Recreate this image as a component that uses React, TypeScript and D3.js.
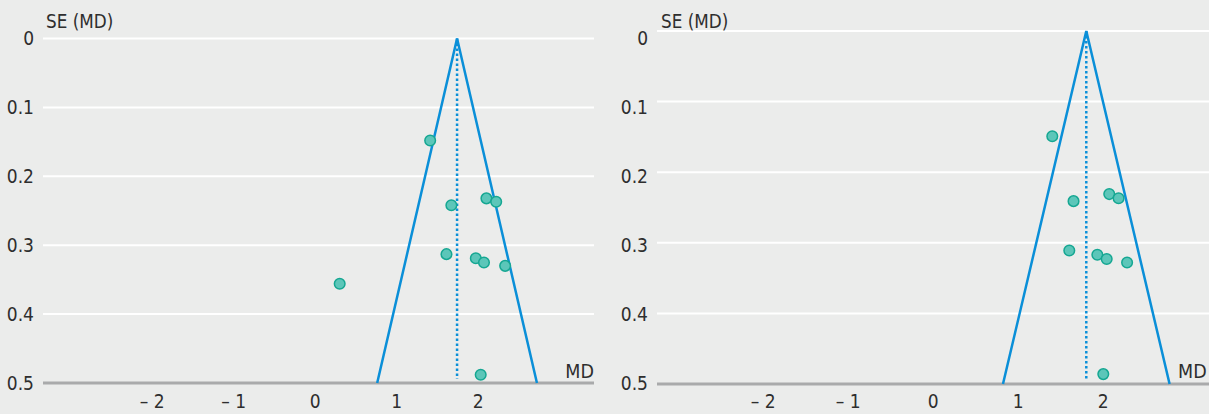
import React from 'react';
import * as d3 from 'd3';

// funnel plot data
const leftMD = [1.41, 1.67, 2.10, 2.22, 1.61, 1.97, 2.07, 2.33, 0.30, 2.03];
const leftSE = [0.148, 0.242, 0.232, 0.237, 0.313, 0.319, 0.325, 0.330, 0.356, 0.488];
const leftPooled = 1.74;

const rightMD = [1.40, 1.65, 2.07, 2.18, 1.60, 1.93, 2.04, 2.28, 2.00];
const rightSE = [0.149, 0.241, 0.231, 0.237, 0.311, 0.317, 0.323, 0.328, 0.486];
const rightPooled = 1.80;

const xTicks = [-2, -1, 0, 1, 2];
const yTicks = [0, 0.1, 0.2, 0.3, 0.4, 0.5];

const W = 1209;
const H = 414;
const FONT = "'Liberation Sans Narrow', 'DejaVu Sans Condensed', 'Liberation Sans', sans-serif";
const BG = '#ebeceb';
const TEXT = '#2e2e2e';
const BLUE = '#0a8fd8';
const TEAL_FILL = '#5cc6b9';
const TEAL_STROKE = '#15a792';

interface PanelProps {
  md: number[];
  se: number[];
  pooled: number;
  xDomain: [number, number];
  xRange: [number, number];
  yRange: [number, number];
  labelRange: [number, number];
  labelX: number;
  seLabelX: number;
  mdLabelX: number;
  mdAnchor: string;
}

function Panel(p: PanelProps) {
  const x = d3.scaleLinear().domain(p.xDomain).range(p.xRange);
  const y = d3.scaleLinear().domain([0, 0.5]).range(p.yRange);
  const yl = d3.scaleLinear().domain([0, 0.5]).range(p.labelRange);
  const seMax = 0.5;

  // pseudo 95% limits
  const funnel = d3.line<[number, number]>()
    .x(d => x(d[0]))
    .y(d => y(d[1]));
  const funnelPts: [number, number][] = [
    [p.pooled - 1.96 * seMax, seMax],
    [p.pooled, 0],
    [p.pooled + 1.96 * seMax, seMax],
  ];
  const fmt = (v: number) => (v === 0 ? '0' : d3.format('.1f')(v));
  const xFmt = (v: number) => (v < 0 ? `\u2013 ${Math.abs(v)}` : `${v}`);

  return (
    <g>
      {yTicks.slice(0, -1).map(t => (
        <line key={t} x1={p.xRange[0]} x2={p.xRange[1]} y1={y(t)} y2={y(t)} stroke="#ffffff" strokeWidth={2} />
      ))}
      <line x1={p.xRange[0]} x2={p.xRange[1]} y1={y(0.5)} y2={y(0.5)} stroke="#a9aaab" strokeWidth={3} />
      {yTicks.map(t => (
        <text key={t} x={p.labelX} y={yl(t)} dy="0.35em" textAnchor="end" fontSize={19} fill={TEXT}>
          {fmt(t)}
        </text>
      ))}
      {xTicks.map(t => (
        <text key={t} x={x(t)} y={408} textAnchor="middle" fontSize={19} fill={TEXT}>
          {xFmt(t)}
        </text>
      ))}
      <text x={p.seLabelX} y={28} fontSize={18.7} fill={TEXT}>SE (MD)</text>
      <text x={p.mdLabelX} y={378} textAnchor={p.mdAnchor} fontSize={19.5} fill={TEXT}>MD</text>
      <line x1={x(p.pooled)} x2={x(p.pooled)} y1={y(0)} y2={y(0.5) - 4} stroke={BLUE} strokeWidth={2.5} strokeDasharray="2.5,2.5" />
      <path d={funnel(funnelPts) || ''} fill="none" stroke={BLUE} strokeWidth={2.5} strokeLinejoin="miter" />
      {p.md.map((m, i) => (
        <circle key={i} cx={x(m)} cy={y(p.se[i])} r={5.3} fill={TEAL_FILL} stroke={TEAL_STROKE} strokeWidth={1.5} />
      ))}
    </g>
  );
}

export default function App() {
  return (
    <svg width={W} height={H} style={{ position: 'absolute', left: 0, top: 0, fontFamily: FONT }}>
      <rect width={W} height={H} fill={BG} />
      <Panel
        md={leftMD}
        se={leftSE}
        pooled={leftPooled}
        xDomain={[-3.34, 3.42]}
        xRange={[43, 594]}
        yRange={[38.5, 383]}
        labelRange={[38.5, 383]}
        labelX={34}
        seLabelX={46}
        mdLabelX={594}
        mdAnchor="end"
      />
      <Panel
        md={rightMD}
        se={rightSE}
        pooled={rightPooled}
        xDomain={[-3.25, 3.42]}
        xRange={[657, 1224]}
        yRange={[31, 384]}
        labelRange={[38.5, 383]}
        labelX={648}
        seLabelX={661}
        mdLabelX={1178}
        mdAnchor="start"
      />
    </svg>
  );
}
